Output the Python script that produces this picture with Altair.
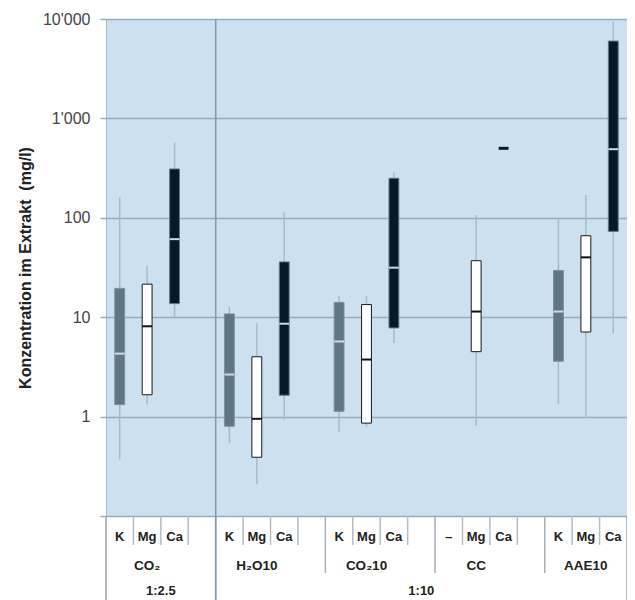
import altair as alt
import pandas as pd

# ---------------- data ----------------
groups = ["CO₂", "H₂O10", "CO₂10", "CC", "AAE10"]
elements = ["K", "Mg", "Ca"]
ratios = ["1:2.5", "1:10"]
ratio_groups = [[0], [1, 2, 3, 4]]   # which groups belong to which ratio

# each box: [lower whisker, Q1, median, Q3, upper whisker]  (mg/l)
co2_25 = {"K": [0.37, 1.32, 4.3, 19.5, 160],
          "Mg": [1.32, 1.66, 8.1, 21.5, 33],
          "Ca": [9.9, 13.7, 61, 310, 570]}
h2o_10 = {"K": [0.54, 0.80, 2.65, 10.8, 12.8],
          "Mg": [0.21, 0.39, 0.95, 4.0, 8.7],
          "Ca": [0.93, 1.64, 8.6, 36, 113]}
co2_10 = {"K": [0.70, 1.13, 5.7, 14.1, 16.4],
          "Mg": [0.79, 0.86, 3.75, 13.4, 16.2],
          "Ca": [5.5, 7.8, 31.5, 250, 285]}
cc_10 = {"K": None,
         "Mg": [0.81, 4.5, 11.4, 37, 107],
         "Ca": [500, 500, 500, 500, 500]}
aae_10 = {"K": [1.35, 3.6, 11.4, 29.5, 97],
          "Mg": [0.97, 7.1, 40, 66, 170],
          "Ca": [6.9, 73, 490, 6000, 9400]}
series = [co2_25, h2o_10, co2_10, cc_10, aae_10]

# ---------------- layout ----------------
W, H = 521, 497
SLOTS = 4 * len(groups) - 1
HALF = 0.18

rows, lab1 = [], []
for g, (gname, d) in enumerate(zip(groups, series)):
    for e, el in enumerate(elements):
        slot = 4 * g + e
        v = d[el]
        lab1.append({"x": slot + 0.5, "t": el if v is not None else "–"})
        if v is None:
            continue
        rows.append({"group": gname, "el": el, "c": slot + 0.5,
                     "xl": slot + 0.5 - HALF, "xr": slot + 0.5 + HALF,
                     "lo": v[0], "q1": v[1], "med": v[2], "q3": v[3], "hi": v[4],
                     "single": v[1] == v[3]})
df = pd.DataFrame(rows)
lab1 = pd.DataFrame(lab1)
lab2 = pd.DataFrame({"x": [4 * g + 1.5 for g in range(len(groups))], "t": groups})
lab3 = pd.DataFrame({"x": [(4 * gs[0] + min(4 * gs[-1] + 4, SLOTS)) / 2 for gs in ratio_groups],
                     "t": ratios})

sep_small = pd.DataFrame({"x": [4 * g + k for g in range(len(groups)) for k in (1, 2, 3)
                                if 4 * g + k < SLOTS]})
sep_group = pd.DataFrame({"x": [4 * g for g in range(1, len(groups))
                                if all(4 * g != 4 * gs[0] for gs in ratio_groups)]})
sep_full = pd.DataFrame({"x": [4 * gs[0] for gs in ratio_groups] + [SLOTS]})
sep_inner = pd.DataFrame({"x": [4 * gs[0] for gs in ratio_groups[1:]]})

FONT = "Liberation Sans"
xs = alt.Scale(domain=[0, SLOTS], nice=False, zero=False)
ys = alt.Scale(type="log", domain=[0.1, 10000], nice=False)

yaxis = alt.Axis(
    values=[0.1, 1, 10, 100, 1000, 10000],
    labelExpr="datum.value < 1 ? '' : replace(format(datum.value, ','), ',', \"'\")",
    grid=True, gridColor="#97abba", gridWidth=1.5,
    tickColor="#97abba", tickSize=6, tickWidth=1.5, domain=False,
    labelFont=FONT, labelFontSize=16, labelColor="#444444", labelPadding=10,
    title="Konzentration im Extrakt \u00a0(mg/l)", titleFont=FONT, titleFontSize=16,
    titleFontWeight="bold", titleColor="#222222", titleAngle=270, titleX=-76,
    titleY=H / 2, titleAlign="center", titleBaseline="alphabetic",
)

base = alt.Chart(df)

whisk = base.mark_rule(color="#a7bccb", strokeWidth=1.5).encode(
    x=alt.X("c:Q", scale=xs, axis=None),
    y=alt.Y("lo:Q", scale=ys, axis=yaxis),
    y2="hi:Q",
)

boxes = base.transform_filter("!datum.single").mark_rect(strokeWidth=1).encode(
    x=alt.X("xl:Q", scale=xs), x2="xr:Q",
    y=alt.Y("q1:Q", scale=ys), y2="q3:Q",
    fill=alt.Fill("el:N", scale=alt.Scale(domain=elements,
                  range=["#5f7686", "#ffffff", "#06192a"]), legend=None),
    stroke=alt.Stroke("el:N", scale=alt.Scale(domain=elements,
                      range=["#7a91a1", "#1a1a1a", "#5f7a8c"]), legend=None),
)

medians = base.transform_filter("!datum.single").mark_rule(strokeWidth=2).encode(
    x=alt.X("xl:Q", scale=xs), x2="xr:Q",
    y=alt.Y("med:Q", scale=ys),
    color=alt.Color("el:N", scale=alt.Scale(domain=elements,
                    range=["#cadcea", "#111111", "#cadcea"]), legend=None),
)

singles = base.transform_filter("datum.single").mark_rule(
    strokeWidth=3, color="#06192a").encode(
    x=alt.X("xl:Q", scale=xs), x2="xr:Q",
    y=alt.Y("med:Q", scale=ys),
)

LINE = "#9aa6b0"
def vrules(d, y0, y1, color=LINE, w=1.5):
    return alt.Chart(d).mark_rule(color=color, strokeWidth=w).encode(
        x=alt.X("x:Q", scale=xs), y=alt.value(y0), y2=alt.value(y1))

r_small = vrules(sep_small, H, 545 - 19, "#b5bdc4", 1.5)
r_group = vrules(sep_group, H, 573 - 19, "#a7b0b8", 1.5)
r_full = vrules(sep_full, H, 600 - 19, "#9aa4ad", 1.5)
r_inner = vrules(sep_inner, 0, 600 - 19, "#8797a4", 1.5)

def texts(d, y, size=13):
    return alt.Chart(d).mark_text(font=FONT, fontSize=size, fontWeight="bold",
                                  color="#222222", baseline="middle").encode(
        x=alt.X("x:Q", scale=xs), y=alt.value(y), text="t:N")

t1 = texts(lab1, 537 - 19)
t2 = texts(lab2, 566 - 19, 13.5)
t3 = texts(lab3, 591 - 19)

chart = alt.layer(whisk, boxes, medians, singles, r_small, r_group, r_full, r_inner,
                  t1, t2, t3).properties(
    width=W, height=H,
    padding={"left": 98, "top": 11, "right": 0, "bottom": 84},
    autosize=alt.AutoSizeParams(type="none"),
).configure_view(fill="#cce0ef", stroke="#a9bccb", strokeWidth=1)

chart.save("out.html", embed_options={"renderer": "svg", "actions": False})
